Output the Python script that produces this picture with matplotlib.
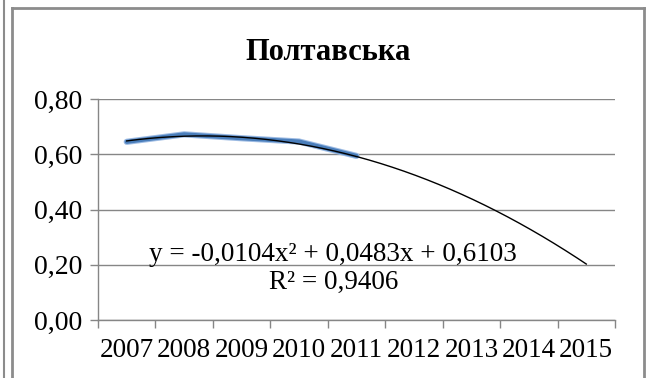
import matplotlib
matplotlib.use("Agg")
import matplotlib.pyplot as plt
import numpy as np
from matplotlib.ticker import FuncFormatter, FixedLocator
from matplotlib.lines import Line2D

plt.rcParams['font.family'] = ['Liberation Serif', 'DejaVu Serif']

title = "Полтавська"
years = ["2007", "2008", "2009", "2010", "2011", "2012", "2013", "2014", "2015"]
actual = [0.645, 0.672, 0.658, 0.646, 0.594]
trend_coef = [-0.0104, 0.0483, 0.6103]
r2 = 0.9406
eq_text = "y = -0,0104x² + 0,0483x + 0,6103"
r2_text = "R² = 0,9406"
yticks = [0.0, 0.2, 0.4, 0.6, 0.8]

W, H = 652, 378
fig = plt.figure(figsize=(W / 100, H / 100), dpi=100)
fig.patch.set_facecolor('white')

# outer frames
fig.add_artist(Line2D([3.5 / W, 3.5 / W], [0, 1], color='#8c8c8c', lw=1.5, transform=fig.transFigure))
fig.add_artist(Line2D([12 / W, 12 / W], [0, 1 - 8 / H], color='#8c8c8c', lw=2, transform=fig.transFigure))
fig.add_artist(Line2D([12 / W, 644 / W], [1 - 8 / H, 1 - 8 / H], color='#8c8c8c', lw=2, transform=fig.transFigure))
fig.add_artist(Line2D([644 / W, 644 / W], [0, 1 - 8 / H], color='#8c8c8c', lw=2, transform=fig.transFigure))

ax = fig.add_axes([98 / W, 1 - 320 / H, (615 - 98) / W, (320 - 99) / H])
ax.set_facecolor('none')

n = len(years)
xs = np.arange(1, n + 1)
ax.set_xlim(0.5, n + 0.5)
ax.set_ylim(0, 0.8)

# gridlines
ax.set_yticks(yticks)
ax.yaxis.set_major_formatter(FuncFormatter(lambda v, p: f"{v:.2f}".replace('.', ',')))
ax.grid(axis='y', color='#868686', lw=1)
ax.set_axisbelow(True)

# category ticks between categories
ax.xaxis.set_major_locator(FixedLocator(np.arange(0.5, n + 1, 1.0)))
ax.xaxis.set_major_formatter(FuncFormatter(lambda v, p: ""))
ax.xaxis.set_minor_locator(FixedLocator(xs))
ax.set_xticklabels(years, minor=True)
ax.tick_params(axis='x', which='major', length=6, color='#868686', width=1, direction='out')
ax.tick_params(axis='x', which='minor', length=0, labelsize=19.5, pad=13)
ax.tick_params(axis='y', length=6, color='#868686', width=1, direction='out', labelsize=20, pad=5)

for s in ['top', 'right']:
    ax.spines[s].set_visible(False)
for s in ['left', 'bottom']:
    ax.spines[s].set_color('#868686')
    ax.spines[s].set_linewidth(1)

# actual data
ax.plot(xs[:len(actual)], actual, color='#9dbbe3', lw=4.5, solid_capstyle='round', zorder=3)
ax.plot(xs[:len(actual)], actual, color='#4a7ebb', lw=3.0, solid_capstyle='round', zorder=3)

# polynomial trendline
xt = np.linspace(1, n, 200)
yt = np.polyval(trend_coef, xt)
ax.plot(xt, yt, color='black', lw=1, zorder=4)

ax.text(0.455, 0.295, eq_text, transform=ax.transAxes, ha='center', va='center', fontsize=19.5)
ax.text(0.455, 0.172, r2_text, transform=ax.transAxes, ha='center', va='center', fontsize=19.5)

fig.text(328 / W, 1 - 53 / H, title, ha='center', va='center', fontsize=22, fontweight='bold')

fig.savefig("out.png", dpi=100)
